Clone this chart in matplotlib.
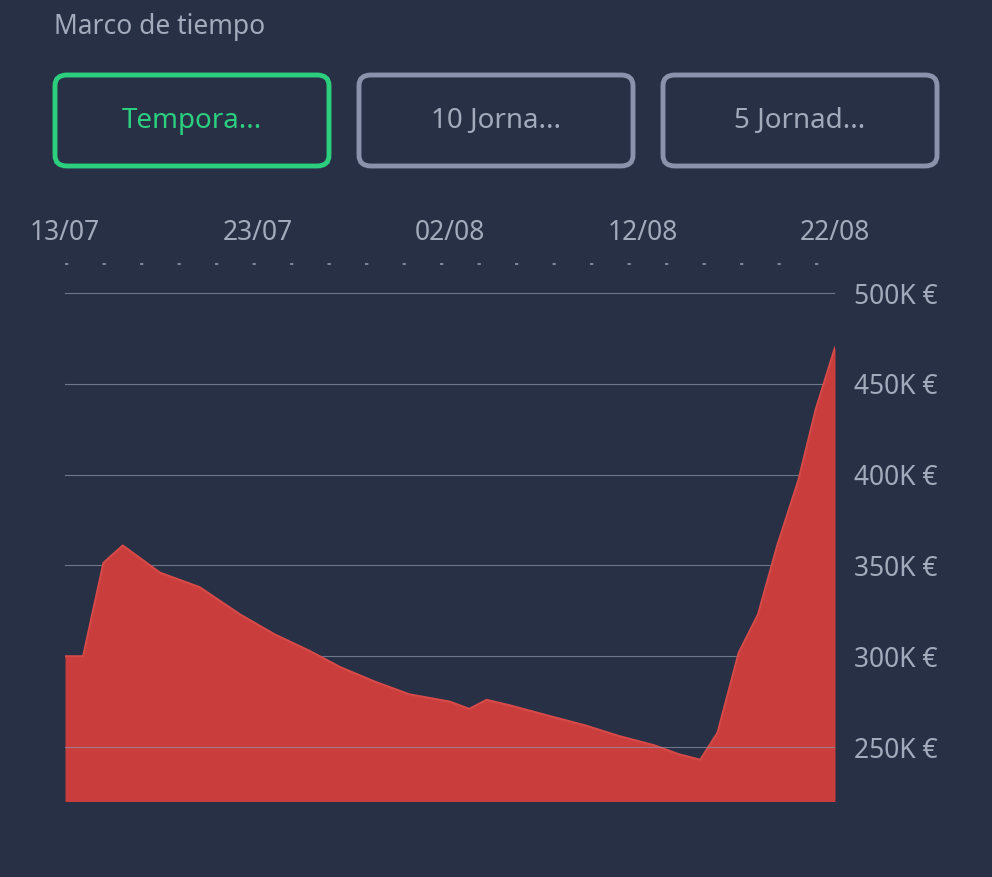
import matplotlib; matplotlib.use('Agg')
import matplotlib.pyplot as plt, numpy as np
from matplotlib.patches import FancyBboxPatch

BG = '#283046'
RED = '#c93d3d'
GRID = '#8e96a8'
TXT = '#a3aabb'
GREEN = '#2bcf7e'

days = [0, 0.94, 2, 3, 4.94, 7, 9.1, 10.9, 12.7, 14.3, 16.1, 17.9, 20, 21, 21.9,
        23.1, 25.2, 27, 28.8, 30.6, 31.9, 33, 33.9, 35, 36, 37, 38.1, 39, 40]
values = [300, 300, 351.5, 361, 346, 338, 323, 312, 303, 294, 286, 279, 275, 271, 276,
          273, 267, 262, 256, 251, 246, 243, 258, 302, 323, 361, 397, 436, 470]
date_labels = ['13/07', '23/07', '02/08', '12/08', '22/08']
date_pos = [0, 10, 20, 30, 40]
yticks = [250, 300, 350, 400, 450, 500]
buttons = ['Tempora...', '10 Jorna...', '5 Jornad...']

W, H = 992, 877
fig = plt.figure(figsize=(W / 100, H / 100), dpi=100, facecolor=BG)
plt.rcParams['font.family'] = ['Noto Sans', 'DejaVu Sans']

fig.text(54 / W, 1 - 27 / H, 'Marco de tiempo', color=TXT, fontsize=19, va='center')
for i, lab in enumerate(buttons):
    x0 = 55 + i * 304
    active = i == 0
    col = GREEN if active else '#8a93ab'
    p = FancyBboxPatch((x0 / W, 1 - 166 / H), 274 / W, 91 / H,
                       boxstyle='round,pad=0,rounding_size=0.012',
                       transform=fig.transFigure, fill=False, ec=col, lw=3.5)
    fig.patches.append(p)
    fig.text((x0 + 137) / W, 1 - 121 / H, lab, color=GREEN if active else TXT,
             fontsize=20, ha='center', va='center')

ax = fig.add_axes([65 / W, 1 - 801 / H, 770 / W, 537 / H])
ax.set_facecolor(BG)
ax.fill_between(days, values, 220, color=RED, lw=0, zorder=2)
ax.plot(days, values, color='#d84a48', lw=1.5, zorder=3)
for v in yticks:
    ax.axhline(v, color=GRID, lw=0.8, alpha=0.7, zorder=4 if v < 300 else 1)
ax.set_xlim(0, 40)
ax.set_ylim(220.3, 516)
for s in ax.spines.values():
    s.set_visible(False)
ax.set_xticks(date_pos)
ax.set_xticklabels(date_labels)
ax.xaxis.tick_top()
ax.tick_params(axis='x', length=0, pad=12, labelsize=19, colors=TXT)
ax.set_yticks(yticks)
ax.set_yticklabels([f'{v}K €' for v in yticks])
ax.yaxis.tick_right()
ax.tick_params(axis='y', length=0, pad=14, labelsize=19, colors=TXT)
ax.axhline(516, color=GRID, lw=1.2, ls=(0, (2, 20.5)), xmax=1.01, clip_on=False)

fig.savefig('out.png', facecolor=BG)
